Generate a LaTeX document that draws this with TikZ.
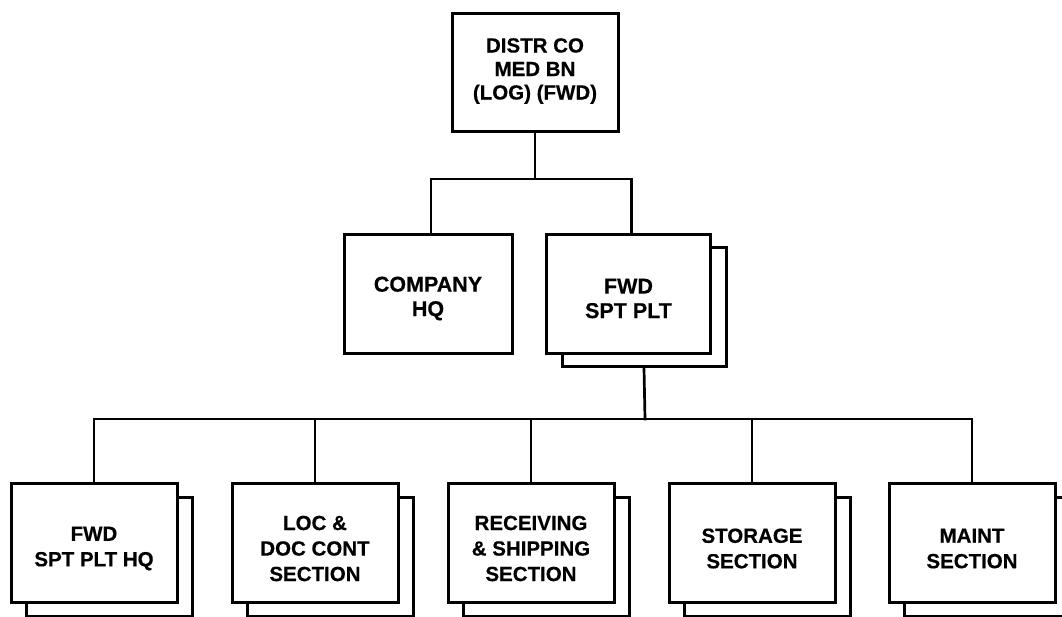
\documentclass[tikz,border=0pt]{standalone}
\usepackage{fontspec}
\newfontfamily\boxfont[FakeBold=0.4]{Liberation Sans Bold}
\tikzset{
  orgbox/.style={draw=black, line width=3pt, fill=white, inner sep=0pt,
    minimum width=166pt, minimum height=119pt},
  boxtext/.style={align=center, inner sep=0pt, font=\boxfont\fontsize{20.5}{25.5}\selectfont},
  toptext/.style={boxtext, font=\boxfont\fontsize{20.5}{23.5}\selectfont},
  midtext/.style={boxtext, font=\boxfont\fontsize{21.5}{24.5}\selectfont},
  link/.style={line width=2.7pt, line cap=rect}
}
\begin{document}
\begin{tikzpicture}[x=1pt,y=-1pt]
\useasboundingbox (0,0) rectangle (1062,616);
\clip (0,0) rectangle (1062,616);
% top
\node[orgbox, minimum height=118pt] (top) at (535,72) {};
\node[toptext, yshift=1pt] (topt) at (top.center) {DISTR CO\\MED BN\\(LOG) (FWD)};
% middle
\node[orgbox, minimum width=168pt] (company) at (428,293.5) {};
\node[midtext, yshift=-5pt] (companyt) at (company.center) {COMPANY\\HQ};
\node[orgbox, minimum width=164pt] (fwds) at (644,307) {};
\node[orgbox, minimum width=164pt] (fwd) at (628.5,293.5) {};
\node[midtext, yshift=-5pt] (fwdt) at (fwd.center) {FWD\\SPT PLT};
% bottom shadows
\node[orgbox] (b1s) at (109,556.5) {};
\node[orgbox] (b2s) at (330,556.5) {};
\node[orgbox] (b3s) at (546,556.5) {};
\node[orgbox] (b4s) at (767,556.5) {};
\node[orgbox] (b5s) at (987,556.5) {};
% bottom boxes
\node[orgbox] (b1) at (94,542.5) {};
\node[orgbox] (b2) at (315,542.5) {};
\node[orgbox] (b3) at (531,542.5) {};
\node[orgbox] (b4) at (752,542.5) {};
\node[orgbox] (b5) at (972,542.5) {};
\node[boxtext, yshift=-6pt] (b1t) at (b1.center) {FWD\\SPT PLT HQ};
\node[boxtext, yshift=-6pt] (b2t) at (b2.center) {LOC \&\\DOC CONT\\SECTION};
\node[boxtext, yshift=-6pt] (b3t) at (b3.center) {RECEIVING\\\& SHIPPING\\SECTION};
\node[boxtext, yshift=-6pt] (b4t) at (b4.center) {STORAGE\\SECTION};
\node[boxtext, yshift=-6pt] (b5t) at (b5.center) {MAINT\\SECTION};
% connectors
\coordinate (j1) at (535,179);
\coordinate (j2) at (645,419);
\draw[link] (top.south) -- (j1);
\draw[link] ([xshift=3pt]company.north) |- (j1) -| ([xshift=3pt]fwd.north);
\draw[link] (fwds.south) -- (j2);
\draw[link] (b1.north) |- (j2) -| (b5.north);
\draw[link] (b2.north) -- (b2.north |- j2);
\draw[link] (b3.north) -- (b3.north |- j2);
\draw[link] (b4.north) -- (b4.north |- j2);
\end{tikzpicture}
\end{document}
